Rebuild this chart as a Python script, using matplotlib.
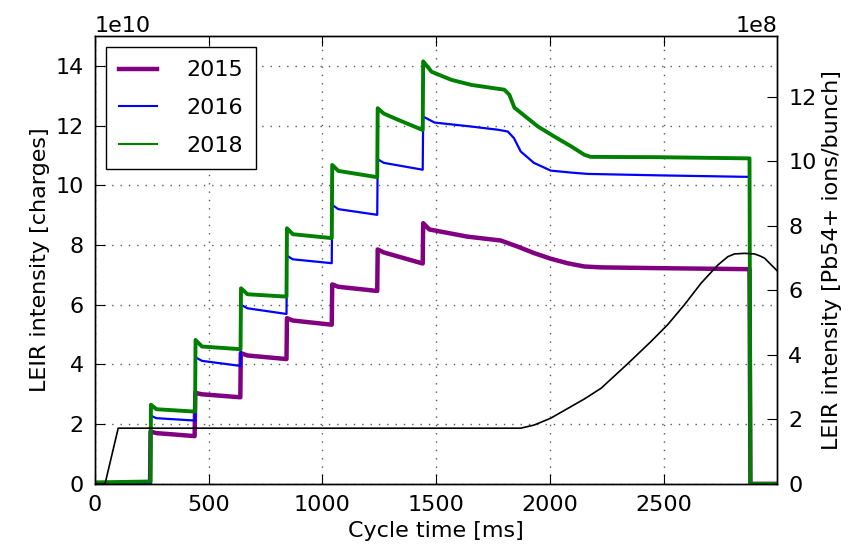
import numpy as np
import matplotlib
matplotlib.use('Agg')
import matplotlib.pyplot as plt

# cycle times [ms] and intensities [1e10 charges]
t_2015 = [0, 242, 244, 270, 438, 441, 470, 639, 641, 670, 842, 844, 870, 1041, 1043, 1070, 1241, 1243, 1270,
          1441, 1443, 1470, 1637, 1784, 1857, 1930, 2004, 2077, 2151, 2224, 2518, 2878, 2882, 3000]
v_2015 = [0, 0, 1.75, 1.70, 1.60, 3.05, 3.00, 2.90, 4.38, 4.30, 4.18, 5.55, 5.47, 5.33, 6.68, 6.60, 6.46, 7.85, 7.75,
          7.38, 8.73, 8.52, 8.28, 8.15, 7.95, 7.73, 7.54, 7.39, 7.28, 7.25, 7.22, 7.19, 0, 0]

t_2016 = [0, 244, 246, 270, 440, 442, 470, 640, 642, 670, 842, 844, 870, 1041, 1043, 1070, 1241, 1243, 1270,
          1441, 1443, 1493, 1650, 1771, 1815, 1842, 1872, 1930, 2004, 2100, 2167, 2489, 2878, 2882, 3000]
v_2016 = [0, 0, 2.28, 2.20, 2.12, 4.24, 4.12, 3.95, 6.00, 5.88, 5.69, 7.64, 7.52, 7.39, 9.34, 9.20, 9.01, 10.87, 10.75,
          10.52, 12.30, 12.10, 11.97, 11.86, 11.80, 11.58, 11.13, 10.75, 10.49, 10.42, 10.38, 10.33, 10.28, 0, 0]

t_2018 = [0, 244, 246, 270, 440, 442, 470, 640, 642, 670, 842, 844, 870, 1041, 1043, 1070, 1241, 1243, 1270, 1330,
          1441, 1443, 1480, 1567, 1655, 1800, 1822, 1844, 1947, 2020, 2094, 2152, 2180, 2474, 2878, 2882, 3000]
v_2018 = [0.05, 0.08, 2.65, 2.50, 2.42, 4.82, 4.60, 4.51, 6.55, 6.35, 6.27, 8.56, 8.36, 8.23, 10.68, 10.48, 10.27,
          12.58, 12.40, 12.20, 11.85, 14.15, 13.80, 13.53, 13.36, 13.20, 13.03, 12.60, 11.97, 11.63, 11.30, 11.02,
          10.95, 10.94, 10.90, 0, 0]

# magnetic cycle (arb. units on the left scale)
t_cycle = [0, 44, 102, 1872, 1931, 2004, 2151, 2225, 2342, 2445, 2518, 2592, 2665, 2739, 2783, 2812, 2856, 2900,
           2922, 2944, 3003]
v_cycle = [0, 0, 1.865, 1.865, 1.97, 2.20, 2.84, 3.20, 4.02, 4.77, 5.33, 6.00, 6.72, 7.33, 7.61, 7.70, 7.72, 7.70,
           7.64, 7.56, 7.11]

charges_per_bunch = 54 * 2

plt.rcParams['font.size'] = 16
plt.rcParams['xtick.direction'] = 'in'
plt.rcParams['ytick.direction'] = 'in'
plt.rcParams['xtick.major.size'] = 7
plt.rcParams['ytick.major.size'] = 7
plt.rcParams['xtick.major.pad'] = 8
plt.rcParams['ytick.major.pad'] = 8
plt.rcParams['axes.linewidth'] = 1.0

fig, ax = plt.subplots(figsize=(8.56, 5.53), dpi=100)
fig.subplots_adjust(left=0.111, right=0.908, top=0.935, bottom=0.125)

l15, = ax.plot(t_2015, np.array(v_2015) * 1e10, color='purple', lw=3.2, label='2015')
l16, = ax.plot(t_2016, np.array(v_2016) * 1e10, color='b', lw=1.6, label='2016')
l18, = ax.plot(t_2018, np.array(v_2018) * 1e10, color='g', lw=2.8, label='2018')
ax.plot(t_cycle, np.array(v_cycle) * 1e10, color='k', lw=1.2)

ax.set_xlim(0, 3000)
ax.set_ylim(0, 1.5e11)
ax.set_xticks(np.arange(0, 3000, 500))
ax.set_yticks(np.arange(0, 1.5e11, 2e10))
ax.ticklabel_format(axis='y', style='sci', scilimits=(10, 10))
ax.grid(True, color='0.35', linestyle=(0, (1, 5)), lw=1.0)
ax.tick_params(top=True, right=False)
ax.set_xlabel('Cycle time [ms]', fontsize=16)
ax.set_ylabel('LEIR intensity [charges]', fontsize=16)

ax2 = ax.twinx()
ax2.set_ylim(0, 1.5e11 / charges_per_bunch)
ax2.set_yticks(np.arange(0, 1.3e9, 2e8))
ax2.ticklabel_format(axis='y', style='sci', scilimits=(8, 8))
ax2.set_ylabel('LEIR intensity [Pb54+ ions/bunch]', fontsize=16)

leg = ax.legend(loc='upper left', fancybox=False, framealpha=1, edgecolor='k',
                handlelength=1.7, borderpad=0.6, labelspacing=0.8, handletextpad=1.3)
leg.get_frame().set_linewidth(1.0)
for line, w in zip(leg.get_lines(), [3.2, 1.5, 1.5]):
    line.set_linewidth(w)

fig.savefig('out.png', dpi=100)
